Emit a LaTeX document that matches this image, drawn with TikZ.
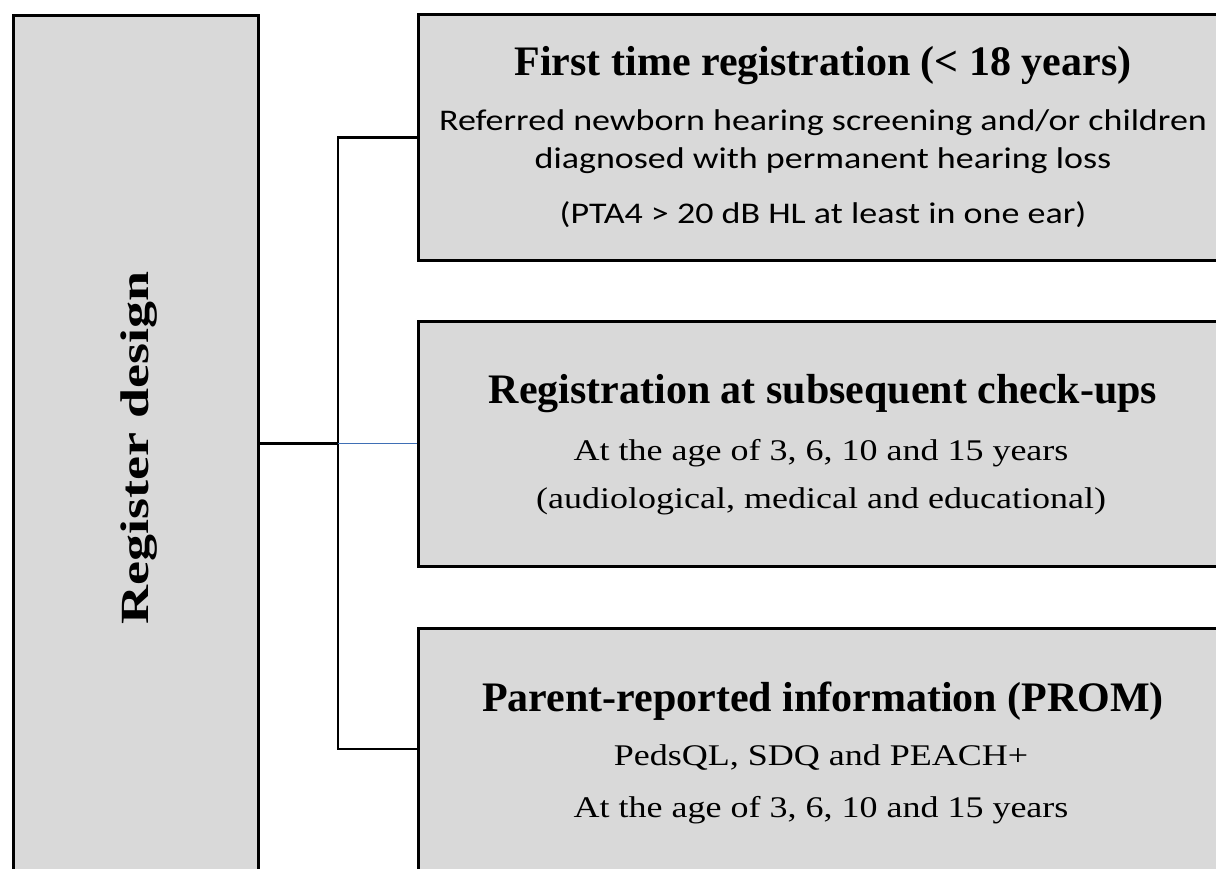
\documentclass[tikz,border=0pt]{standalone}
\usepackage{fontspec}
\setmainfont{Liberation Serif}
\newfontfamily\bodyfont[FakeStretch=1.2]{Liberation Serif}
\newfontfamily\calfont[FakeStretch=1.2]{Carlito}
\newfontfamily\rotfont[FakeStretch=1.35]{Liberation Serif}
\definecolor{boxgray}{HTML}{D9D9D9}
\definecolor{linkblue}{HTML}{3F6FB5}
\tikzset{
  box/.style={draw=black, fill=boxgray, line width=3pt, inner sep=0pt, rectangle},
  titletxt/.style={anchor=base, inner sep=0pt, font=\fontsize{42}{48}\selectfont\bfseries},
  seriftxt/.style={anchor=base, inner sep=0pt, font=\fontsize{30}{36}\bodyfont},
  caltxt/.style={anchor=base, inner sep=0pt, font=\fontsize{30}{36}\calfont},
  link/.style={line width=2.5pt, black},
}
\begin{document}
\begin{tikzpicture}[x=1pt, y=-1pt]
\useasboundingbox (0,0) rectangle (1216,868);
\clip (0,0) rectangle (1216,868);
\fill[white] (0,0) rectangle (1216,868);

% boxes
\node[box, minimum width=245pt, minimum height=880pt] (L) at (135.5,455) {};
\node[box, minimum width=812pt, minimum height=246pt] (B1) at (824,137.5) {};
\node[box, minimum width=812pt, minimum height=245pt] (B2) at (824,443.5) {};
\node[box, minimum width=812pt, minimum height=242pt] (B3) at (824,749) {};

% connectors
\coordinate (J) at (338,443.5);
\draw[link] (B1.west) -| (J) |- (B3.west);
\draw[link] (L.east |- J) -- (J);
\draw[line width=1.6pt, linkblue] (J) -- (B2.west);

% left label
\node[anchor=base, inner sep=0pt, rotate=90, font=\fontsize{40}{48}\rotfont\bfseries] (LT) at (148,448) {Register design};

% box 1
\node[titletxt] (T1) at (823,75) {First time registration (< 18 years)};
\node[caltxt] (T1a) at (823,130) {Referred newborn hearing screening and/or children};
\node[caltxt] (T1b) at (823,168) {diagnosed with permanent hearing loss};
\node[caltxt] (T1c) at (823,223) {(PTA4 > 20 dB HL at least in one ear)};

% box 2
\node[titletxt] (T2) at (823,403) {Registration at subsequent check-ups};
\node[seriftxt] (T2a) at (821,460) {At the age of 3, 6, 10 and 15 years};
\node[seriftxt] (T2b) at (821,508) {(audiological, medical and educational)};

% box 3
\node[titletxt] (T3) at (823,711) {Parent-reported information (PROM)};
\node[seriftxt] (T3a) at (821,765) {PedsQL, SDQ and PEACH+};
\node[seriftxt] (T3b) at (821,817) {At the age of 3, 6, 10 and 15 years};
\end{tikzpicture}
\end{document}
